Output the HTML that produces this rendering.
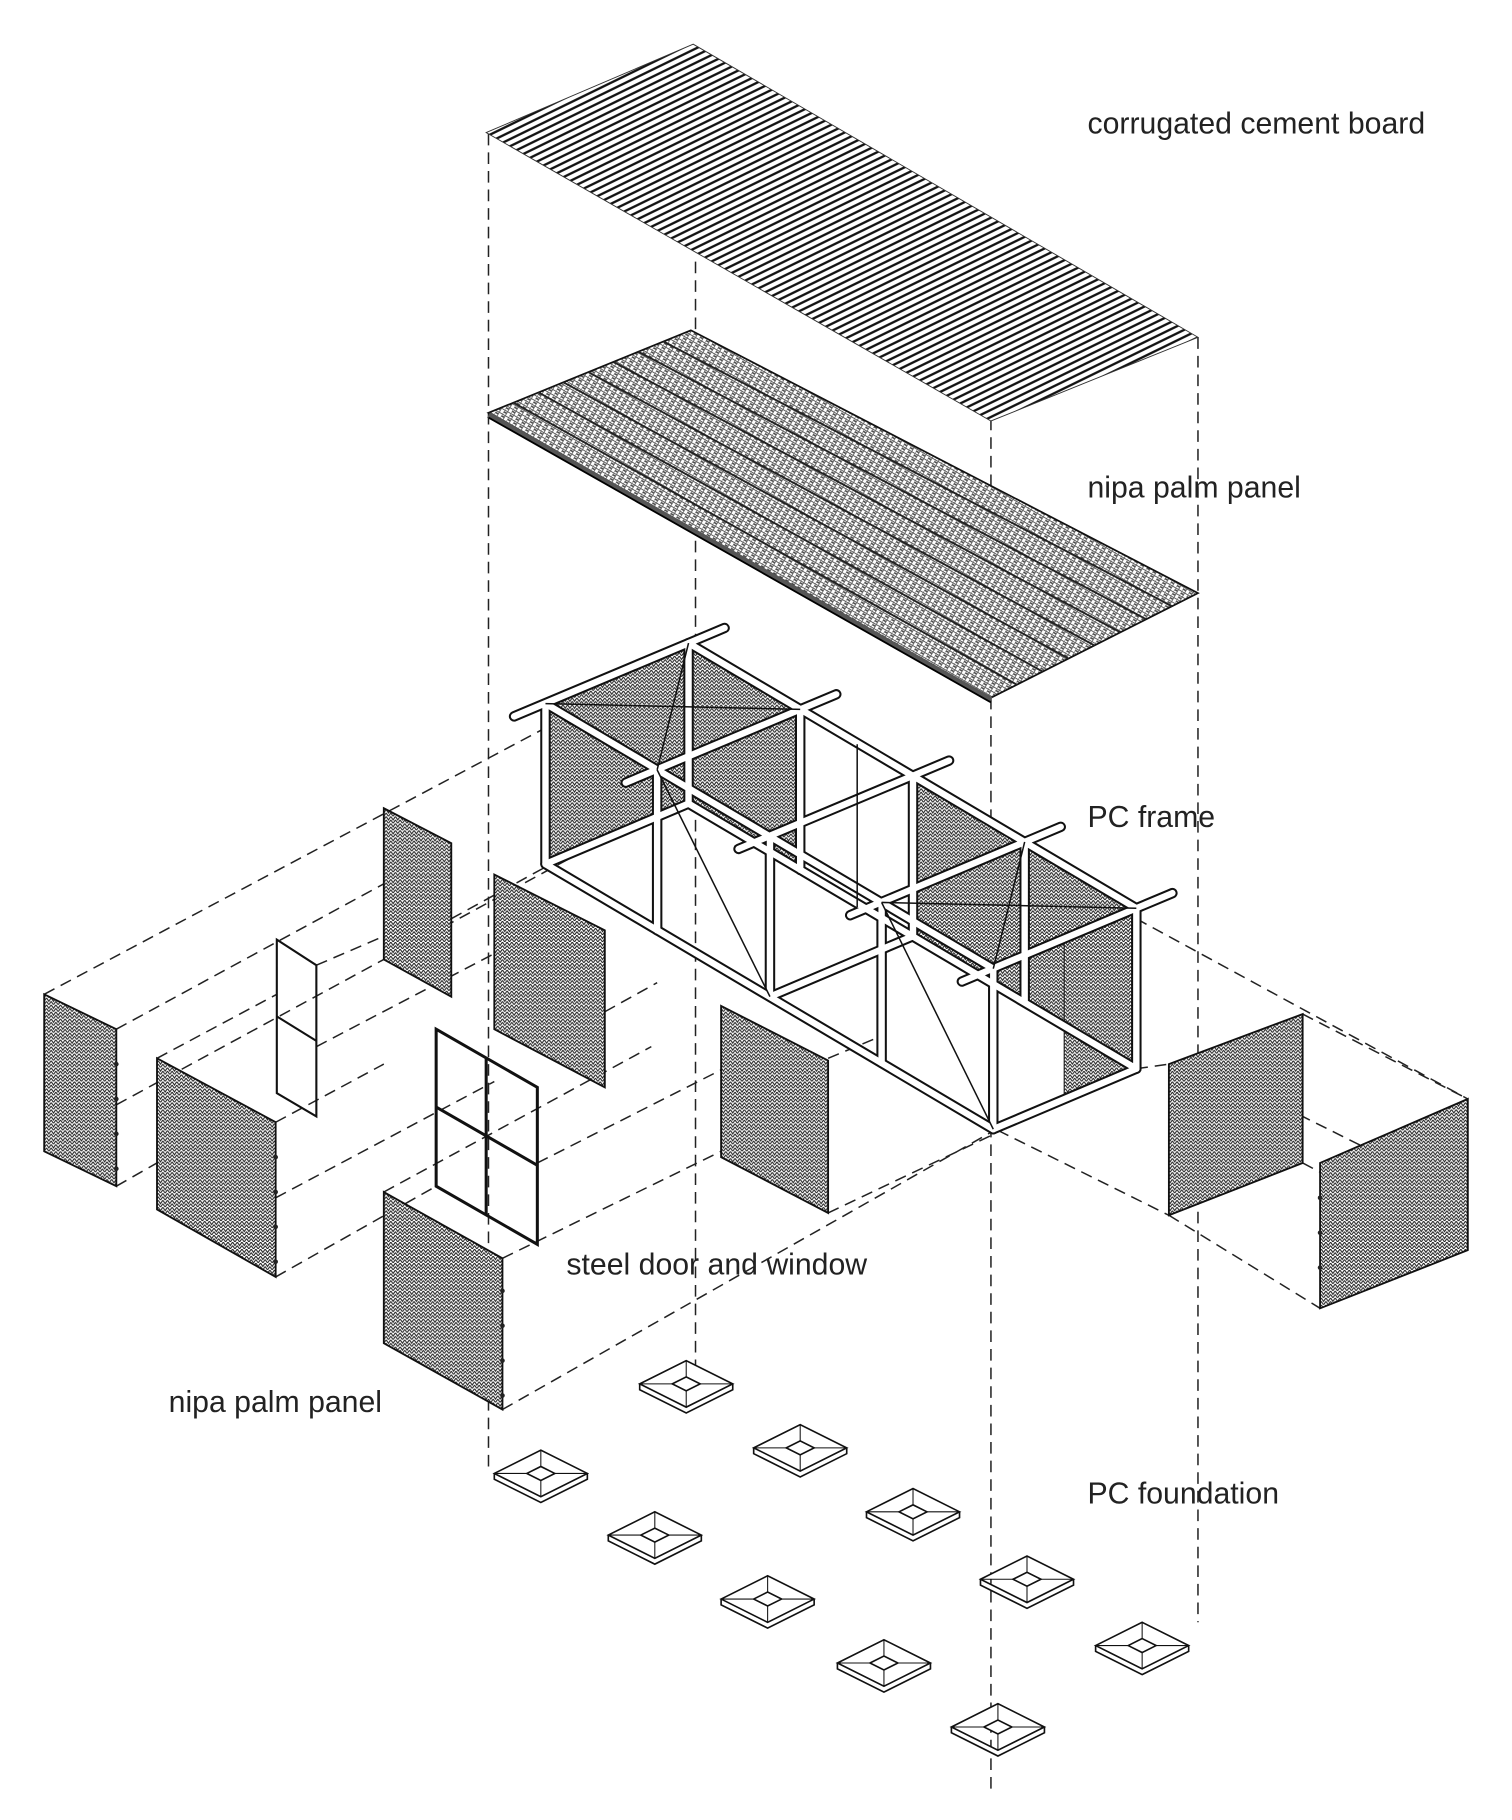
<!DOCTYPE html>
<html><head><meta charset="utf-8"><style>
html,body{margin:0;padding:0;background:#fff;}
svg{display:block;}
text{font-family:"Liberation Sans",sans-serif;font-size:26px;fill:#222;}
</style></head><body>
<svg width="1512" height="1820" viewBox="0 0 1300 1565" preserveAspectRatio="none" xmlns="http://www.w3.org/2000/svg">
<defs>
<pattern id="mesh" width="4" height="6" patternUnits="userSpaceOnUse">
<rect width="4" height="6" fill="#fff"/>
<path d="M0 0 L2 3 L4 0 M0 3 L2 6 L4 3" stroke="#222" stroke-width="0.9" fill="none"/>
</pattern>
<pattern id="corr" width="12" height="5.5" patternUnits="userSpaceOnUse" patternTransform="rotate(-26)">
<rect width="12" height="5.5" fill="#fff"/>
<line x1="0" y1="2.75" x2="12" y2="2.75" stroke="#111" stroke-width="2"/>
</pattern>
<pattern id="nipa" width="6" height="4" patternUnits="userSpaceOnUse" patternTransform="rotate(30)">
<rect width="6" height="4" fill="#fff"/>
<path d="M0 0 L6 0 M0 2 L3 2" stroke="#444" stroke-width="1.3"/>
<path d="M0 0 L0 4 M3 0 L3 4" stroke="#666" stroke-width="0.8"/>
</pattern>
</defs>

<g fill="none" stroke="#222" stroke-width="1.3" stroke-dasharray="10 6">
<line x1="420" y1="115" x2="420" y2="1265"/>
<line x1="598" y1="225" x2="598" y2="1180"/>
<line x1="852" y1="360" x2="852" y2="1540"/>
<line x1="1030" y1="290" x2="1030" y2="1395"/>
<line x1="38" y1="855" x2="465" y2="628"/>
<line x1="100" y1="885" x2="330" y2="760"/>
<line x1="135" y1="910" x2="238" y2="855"/>
<line x1="100" y1="950" x2="560" y2="700"/>
<line x1="237" y1="965" x2="330" y2="915"/>
<line x1="100" y1="1020" x2="135" y2="1000"/>
<line x1="272" y1="830" x2="330" y2="805"/>
<line x1="272" y1="900" x2="425" y2="820"/>
<line x1="237" y1="1030" x2="425" y2="930"/>
<line x1="237" y1="1098" x2="375" y2="1020"/>
<line x1="330" y1="1025" x2="560" y2="900"/>
<line x1="462" y1="1000" x2="620" y2="920"/>
<line x1="432" y1="1082" x2="620" y2="990"/>
<line x1="432" y1="1212" x2="855" y2="972"/>
<line x1="388" y1="790" x2="470" y2="745"/>
<line x1="520" y1="870" x2="565" y2="845"/>
<line x1="712" y1="910" x2="760" y2="890"/>
<line x1="712" y1="1043" x2="855" y2="975"/>
<line x1="977" y1="790" x2="1262" y2="945"/>
<line x1="1120" y1="872" x2="1262" y2="945"/>
<line x1="858" y1="972" x2="1005" y2="1045"/>
<line x1="1005" y1="1045" x2="1135" y2="1125"/>
<line x1="1120" y1="1000" x2="1262" y2="1075"/>
<line x1="1060" y1="930" x2="1180" y2="990"/>
<line x1="977" y1="919" x2="1005" y2="915"/>
</g>

<polygon points="418,114 596,38 1030,290 852,362" fill="url(#corr)" stroke="#333" stroke-width="0.8"/>

<polygon points="420,355 594,284 1030,510 852,600" fill="url(#nipa)" stroke="#111" stroke-width="1.5"/>
<g stroke="#222" stroke-width="1.6">
<line x1="441.5" y1="346.25" x2="874.25" y2="588.75"/>
<line x1="463" y1="337.5" x2="896.5" y2="577.5"/>
<line x1="484.5" y1="328.75" x2="918.75" y2="566.25"/>
<line x1="506" y1="320" x2="941" y2="555"/>
<line x1="527.5" y1="311.25" x2="963.25" y2="543.75"/>
<line x1="549" y1="302.5" x2="985.5" y2="532.5"/>
<line x1="570.5" y1="293.75" x2="1007.75" y2="521.25"/>
</g>
<line x1="420" y1="357" x2="852" y2="602" stroke="#555" stroke-width="5"/>
<line x1="420" y1="359" x2="852" y2="604" stroke="#000" stroke-width="1.5"/>

<g fill="url(#mesh)" stroke="#222" stroke-width="1">
<polygon points="469,605 592,553 592,691 469,743"/>
<polygon points="592,553 688,610 688,748 592,691"/>
<polygon points="785,667 881,724 881,862 785,805"/>
<polygon points="881,724 977,781 977,919 881,862"/>
<polygon points="915,807 977,781 977,919 915,945"/>
</g>

<g stroke-linecap="round">
<g stroke="#111" stroke-width="9">
<path d="M592,553 L977,781 M592,691 L977,919 M592,553 L592,691 M688,610 L688,748 M785,667 L785,805 M881,724 L881,862 M977,781 L977,919"/>
<path d="M469,743 L854,971 M469,743 L592,691 M854,971 L977,919 M662,857 L785,805"/>
<path d="M469,605 L854,833 M469,605 L469,743 M565,662 L565,800 M662,719 L662,857 M758,776 L758,914 M854,833 L854,971"/>
<path d="M442,616 L623,540 M538,673 L719,597 M635,730 L816,654 M731,787 L912,711 M827,844 L1008,768"/>
</g>
<g stroke="#fff" stroke-width="5.5">
<path d="M592,553 L977,781 M592,691 L977,919 M592,553 L592,691 M688,610 L688,748 M785,667 L785,805 M881,724 L881,862 M977,781 L977,919"/>
<path d="M469,743 L854,971 M469,743 L592,691 M854,971 L977,919 M662,857 L785,805"/>
<path d="M469,605 L854,833 M469,605 L469,743 M565,662 L565,800 M662,719 L662,857 M758,776 L758,914 M854,833 L854,971"/>
<path d="M442,616 L623,540 M538,673 L719,597 M635,730 L816,654 M731,787 L912,711 M827,844 L1008,768"/>
</g>
</g>
<g stroke="#111" stroke-width="1.3">
<line x1="469" y1="605" x2="688" y2="610"/><line x1="565" y1="662" x2="592" y2="553"/>
<line x1="758" y1="776" x2="977" y2="781"/><line x1="854" y1="833" x2="881" y2="724"/>
<line x1="565" y1="662" x2="662" y2="857"/><line x1="758" y1="776" x2="854" y2="971"/>
<line x1="737" y1="640" x2="737" y2="780"/>
</g>

<g fill="url(#mesh)" stroke="#111" stroke-width="1.6">
<polygon points="38,855 100,885 100,1020 38,990"/>
<polygon points="135,910 237,965 237,1098 135,1040"/>
<polygon points="330,695 388,725 388,857 330,825"/>
<polygon points="425,752 520,800 520,935 425,885"/>
<polygon points="330,1025 432,1082 432,1212 330,1155"/>
<polygon points="620,865 712,912 712,1043 620,995"/>
<polygon points="1005,915 1120,872 1120,1000 1005,1045"/>
<polygon points="1135,1000 1262,945 1262,1075 1135,1125"/>
</g>
<g fill="#222">
<circle cx="100" cy="915" r="2"/><circle cx="100" cy="945" r="2"/><circle cx="100" cy="975" r="2"/><circle cx="100" cy="1005" r="2"/>
<circle cx="237" cy="995" r="2"/><circle cx="237" cy="1025" r="2"/><circle cx="237" cy="1055" r="2"/><circle cx="237" cy="1085" r="2"/>
<circle cx="432" cy="1110" r="2"/><circle cx="432" cy="1140" r="2"/><circle cx="432" cy="1170" r="2"/><circle cx="432" cy="1200" r="2"/>
<circle cx="1135" cy="1030" r="2"/><circle cx="1135" cy="1060" r="2"/><circle cx="1135" cy="1090" r="2"/>
</g>
<g fill="none" stroke="#111" stroke-width="1.8">
<polygon points="238,808 272,830 272,960 238,940"/>
<line x1="238" y1="874" x2="272" y2="895"/>
</g>
<g fill="none" stroke="#111" stroke-width="2.6">
<polygon points="375,885 462,935 462,1070 375,1020"/>
<line x1="418" y1="910" x2="418" y2="1045"/>
<line x1="375" y1="952" x2="462" y2="1002"/>
</g>

<g id="f">
<g transform="translate(590,1190)" fill="#fff" stroke="#111" stroke-width="1.4"><path d="M-40,0 L0,-20 L40,0 L0,20 Z M-40,0 L-40,5 L0,25 L40,5 L40,0"/><path d="M-12,0 L0,-6 L12,0 L0,6 Z"/><path d="M-40,0 L-12,0 M40,0 L12,0 M0,-20 L0,-6 M0,20 L0,6" stroke-width="0.9"/></g>
</g>
<use href="#f" transform="translate(98,55)"/>
<use href="#f" transform="translate(195,110)"/>
<use href="#f" transform="translate(293,168)"/>
<use href="#f" transform="translate(392,225)"/>
<use href="#f" transform="translate(-125,77)"/>
<use href="#f" transform="translate(-27,130)"/>
<use href="#f" transform="translate(70,185)"/>
<use href="#f" transform="translate(170,240)"/>
<use href="#f" transform="translate(268,295)"/>

<text x="935" y="115">corrugated cement board</text>
<text x="935" y="428">nipa palm panel</text>
<text x="935" y="711">PC frame</text>
<text x="487" y="1096">steel door and window</text>
<text x="145" y="1214">nipa palm panel</text>
<text x="935" y="1293">PC foundation</text>
</svg>
</body></html>
